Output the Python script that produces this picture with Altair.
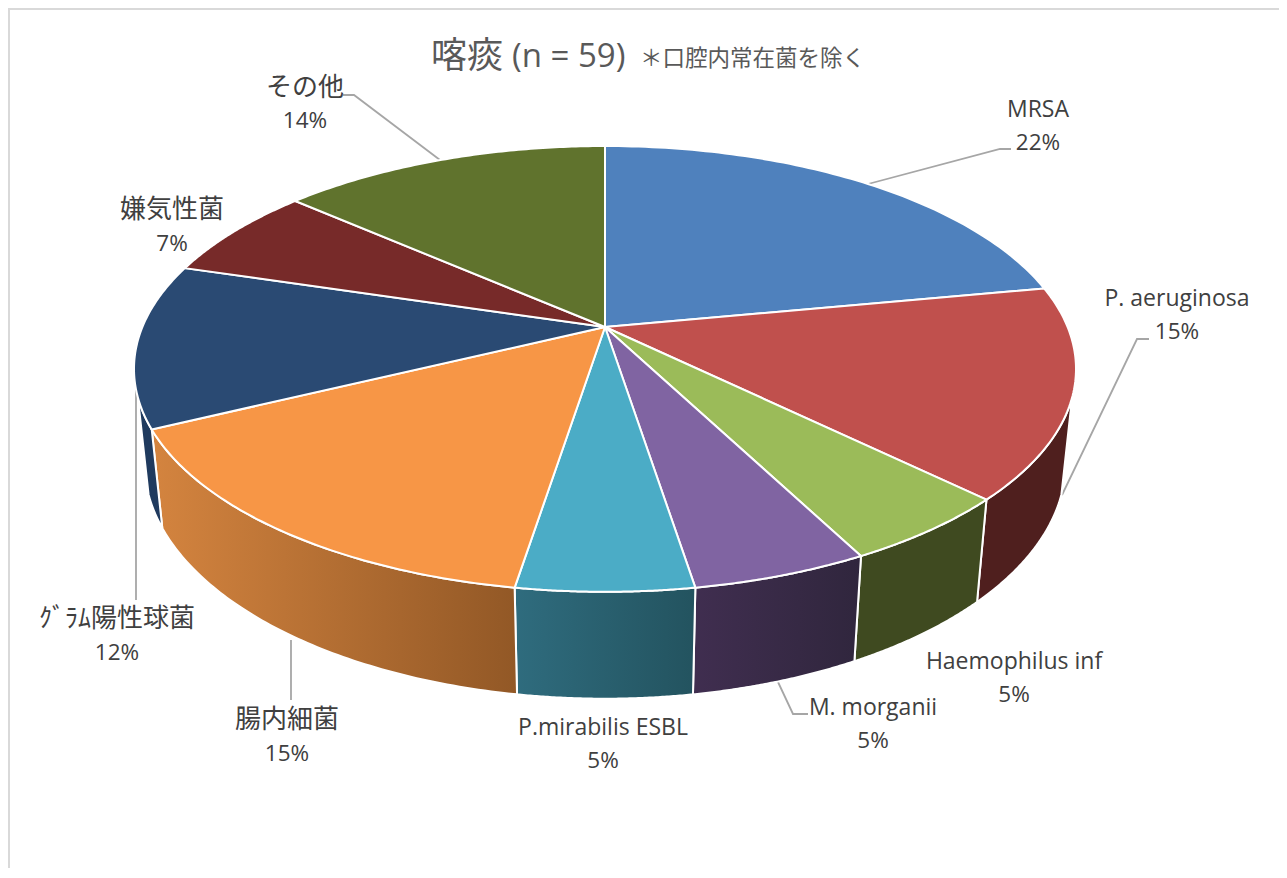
import math
import altair as alt
import pandas as pd

# --- values (n = 59) ---
names = ["MRSA", "P. aeruginosa", "Haemophilus inf", "M. morganii", "P.mirabilis ESBL",
         "腸内細菌", "ｸﾞﾗﾑ陽性球菌", "嫌気性菌", "その他"]
counts = [13, 9, 3, 3, 3, 9, 7, 4, 8]
top_colors = ["#4f81bd", "#c0504d", "#9bbb59", "#8064a2", "#4bacc6",
              "#f79646", "#2a4a73", "#772a29", "#60732d"]
wall_left = ["#2f4d71", "#4f1f1e", "#3f4a20", "#402e50", "#2f6c7e",
             "#d4843f", "#1f3a5e", "#4f1f1e", "#3f4a20"]
wall_right = ["#2f4d71", "#4f1f1e", "#3f4a20", "#30263d", "#23535f",
              "#925826", "#1f3a5e", "#4f1f1e", "#3f4a20"]

# --- layout ---
W, H = 1271, 860
OFF = 8
CX, CY = 605, 327
A, B, K = 462.6, 215.0, 0.188
WALL_M, WALL_D = 0.022, 95.0
VIS_FROM, VIS_TO = 0.30, 0.70  # part of the rim whose wall can be seen
label_centres = [(1038, 110, 143), (1177, 299, 332), (1014, 662, 695), (873, 708, 741),
                 (603, 728, 761), (287, 720, 754), (117, 619, 653), (172, 210, 244), (305, 88, 121)]
leaders = [[(1011, 149), (1000, 149), (868, 184)],
           [(1149, 339), (1137, 339), (1062, 495)],
           [(808, 714), (793, 714), (778, 682)],
           [(291, 700), (291, 640)],
           [(136, 600), (136, 350)],
           [(343, 95), (354, 95), (440, 160)]]
frame = [[(1279, 9), (9, 9), (9, 868)]]

X = alt.X("x:Q", axis=None, scale=alt.Scale(domain=[0, W], nice=False, zero=False))
Y = alt.Y("y:Q", axis=None, scale=alt.Scale(domain=[H, 0], nice=False, zero=False))


def rim(t, wall=False):
    """Perspective projection of the pie's rim at turn fraction t."""
    a = 2 * math.pi * t
    u, v = math.sin(a), -math.cos(a)
    den = 1 - K * v + (WALL_M if wall else 0)
    return (CX + A * u / den, CY + (B * v + (WALL_D if wall else 0)) / den)


def poly(points, **mark):
    df = pd.DataFrame([{"x": px - OFF, "y": py - OFF, "i": j} for j, (px, py) in enumerate(points)])
    return alt.Chart(df).mark_line(**mark).encode(x=X, y=Y, order=alt.Order("i:Q"))


total = sum(counts)
edges = [sum(counts[:i]) / total for i in range(len(counts) + 1)]
N = 80
layers = []
for pts in frame:
    layers.append(poly(pts, stroke="#d9d9d9", strokeWidth=2))
for pts in leaders:
    layers.append(poly(pts, stroke="#a6a6a6", strokeWidth=1.8))

# walls first, then the top
for i in range(len(counts)):
    t0, t1 = max(edges[i], VIS_FROM), min(edges[i + 1], VIS_TO)
    if t1 <= t0:
        continue
    ts = [t0 + (t1 - t0) * j / N for j in range(N + 1)]
    outline = [rim(t) for t in ts] + [rim(t, True) for t in reversed(ts)]
    outline.append(outline[0])
    grad = alt.LinearGradient(gradient="linear", x1=0, x2=1, y1=0, y2=0,
                              stops=[alt.GradientStop(color=wall_left[i], offset=0),
                                     alt.GradientStop(color=wall_right[i], offset=1)])
    layers.append(poly(outline, fill=grad, stroke="white", strokeWidth=2))
for i in range(len(counts)):
    ts = [edges[i] + (edges[i + 1] - edges[i]) * j / N for j in range(N + 1)]
    outline = [(CX, CY)] + [rim(t) for t in ts] + [(CX, CY)]
    layers.append(poly(outline, fill=top_colors[i], stroke="white", strokeWidth=2))

# labels
rows = []
for i, name in enumerate(names):
    cx, y1, y2 = label_centres[i]
    is_cjk = any(ord(c) > 0x2E7F for c in name)
    rows.append({"x": cx - OFF, "y": y1 - OFF, "t": name, "s": 26 if is_cjk else 23})
    rows.append({"x": cx - OFF, "y": y2 - OFF, "t": f"{round(100 * counts[i] / total)}%", "s": 22.5})
labels = alt.Chart(pd.DataFrame(rows)).mark_text(
    align="center", baseline="middle", color="#404040", font="Open Sans, Noto Sans CJK JP"
).encode(x=X, y=Y, text="t:N", size=alt.Size("s:Q", scale=None, legend=None))
layers.append(labels)

title_rows = [{"x": 431 - OFF, "y": 57 - OFF, "t": "喀痰", "s": 36},
              {"x": 512 - OFF, "y": 57 - OFF, "t": "(n = 59)", "s": 33},
              {"x": 640 - OFF, "y": 59 - OFF, "t": "＊口腔内常在菌を除く", "s": 22.5}]
titles = alt.Chart(pd.DataFrame(title_rows)).mark_text(
    align="left", baseline="middle", color="#595959", font="Open Sans, Noto Sans CJK JP"
).encode(x=X, y=Y, text="t:N", size=alt.Size("s:Q", scale=None, legend=None))
layers.append(titles)

chart = alt.layer(*layers).properties(
    width=W, height=H, padding=0, background="white",
    autosize=alt.AutoSizeParams(type="none")
).configure_view(stroke=None)

chart.save("out.html", embed_options={"renderer": "svg", "actions": False})
